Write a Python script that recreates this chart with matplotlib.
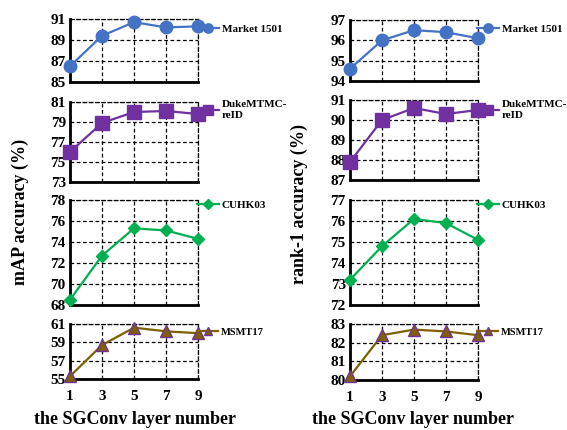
import matplotlib
matplotlib.use("Agg")
import matplotlib.pyplot as plt

layers = [1, 3, 5, 7, 9]
datasets = ["Market 1501", "DukeMTMC-\nreID", "CUHK03", "MSMT17"]

map_market = [86.5, 89.4, 90.7, 90.2, 90.3]
map_duke = [76.0, 78.9, 80.0, 80.1, 79.8]
map_cuhk = [68.5, 72.7, 75.3, 75.1, 74.3]
map_msmt = [55.3, 58.7, 60.6, 60.2, 60.0]

r1_market = [94.6, 96.0, 96.5, 96.4, 96.1]
r1_duke = [87.9, 90.0, 90.6, 90.3, 90.5]
r1_cuhk = [73.2, 74.8, 76.1, 75.9, 75.1]
r1_msmt = [80.2, 82.4, 82.7, 82.6, 82.4]

map_ticks = [[85, 87, 89, 91], [73, 75, 77, 79, 81], [68, 70, 72, 74, 76, 78], [55, 57, 59, 61]]
r1_ticks = [[94, 95, 96, 97], [87, 88, 89, 90, 91], [72, 73, 74, 75, 76, 77], [80, 81, 82, 83]]

colors = ["#4472C4", "#7030A0", "#00B050", "#7F6000"]
markers = ["o", "s", "D", "^"]
msizes = [9, 10, 6.5, 8]
edgecols = ["#4472C4", "#7030A0", "#00B050", "#7030A0"]

W, H = 567, 430
plt.rcParams["font.family"] = ["Liberation Serif", "DejaVu Serif"]
plt.rcParams["font.weight"] = "bold"
fig = plt.figure(figsize=(W / 100, H / 100), dpi=100)

# panel pixel extents (top, bottom)
left_rows = [(19, 82), (102, 182), (200, 305), (324, 379)]
right_rows = [(20, 81), (100, 180), (200, 305), (324, 380)]
cols = [(70, 198, left_rows, [map_market, map_duke, map_cuhk, map_msmt], map_ticks),
        (350, 478, right_rows, [r1_market, r1_duke, r1_cuhk, r1_msmt], r1_ticks)]

leg_y = [29, 110, 205, 332]
leg_fs = [8, 8, 8, 7.6]

for x0, x1, rows, series, ticks in cols:
    for i, ((t, b), vals, tk) in enumerate(zip(rows, series, ticks)):
        ax = fig.add_axes([x0 / W, 1 - b / H, (x1 - x0) / W, (b - t) / H])
        ax.plot(layers, vals, color=colors[i], lw=1.6, marker=markers[i], ms=msizes[i],
                mfc=colors[i], mec=edgecols[i], mew=1.0, clip_on=False, zorder=5,
                label=datasets[i])
        ax.set_xlim(1, 9)
        ax.set_ylim(tk[0], tk[-1])
        ax.set_xticks(layers)
        ax.set_yticks(tk)
        ax.grid(True, color="black", ls=(0, (3, 2)), lw=0.9)
        for s in ["top", "right"]:
            ax.spines[s].set_linestyle((0, (3, 2)))
            ax.spines[s].set_linewidth(0.9)
        for s in ["left", "bottom"]:
            ax.spines[s].set_linewidth(2)
        ax.tick_params(length=0, labelsize=11, pad=3)
        for lab in ax.get_yticklabels():
            lab.set_fontweight("bold")
        if i < 3:
            ax.set_xticklabels([])
        else:
            ax.tick_params(axis="x", pad=8)
            for lab in ax.get_xticklabels():
                lab.set_fontweight("bold")
        ax.legend(loc="center left", bbox_to_anchor=((x1 - 1) / W, 1 - leg_y[i] / H),
                  bbox_transform=fig.transFigure, frameon=False, borderaxespad=0,
                  borderpad=0, handlelength=2.0, handletextpad=0.25,
                  prop={"weight": "bold", "size": leg_fs[i]}, markerscale=0.75)

fig.text(20 / W, 1 - 212 / H, "mAP accuracy (%)", rotation=90, ha="center", va="center",
         fontsize=13, fontweight="bold")
fig.text(299 / W, 1 - 204 / H, "rank-1 accuracy (%)", rotation=90, ha="center", va="center",
         fontsize=13, fontweight="bold")
fig.text(135 / W, 1 - 420 / H, "the SGConv layer number", ha="center", va="center",
         fontsize=13, fontweight="bold")
fig.text(413 / W, 1 - 420 / H, "the SGConv layer number", ha="center", va="center",
         fontsize=13, fontweight="bold")

fig.savefig("out.png", dpi=100)
